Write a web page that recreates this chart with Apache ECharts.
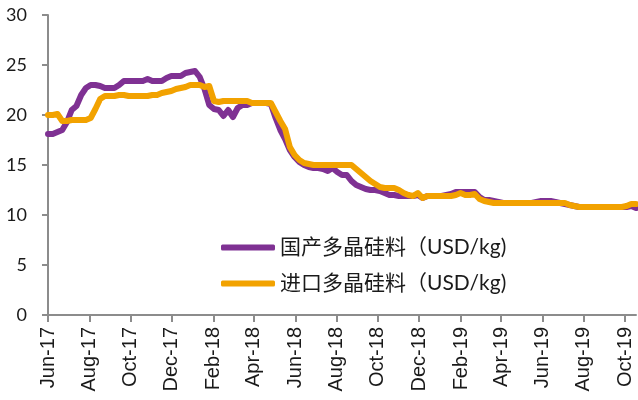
<!DOCTYPE html>
<html>
<head>
<meta charset="utf-8">
<script src="https://cdn.jsdelivr.net/npm/echarts@6/dist/echarts.min.js"></script>
<style>
  html, body { margin: 0; padding: 0; background: #fff; }
  #chart { width: 638px; height: 400px; }
</style>
</head>
<body>
<div id="chart"></div>
<script>
// weekly observations, first one on startDate
const startDate = '2017-06-01'
const endDate = '2019-10-17'

const domesticName = '国产多晶硅料（USD/kg)'
const importName = '进口多晶硅料（USD/kg)'

const domesticPrice = [
  18.1, 18.1, 18.3, 18.5, 19.3, 20.5, 20.9, 22.0, 22.7, 23.0,
  23.0, 22.9, 22.7, 22.7, 22.7, 23.0, 23.4, 23.4, 23.4, 23.4,
  23.4, 23.6, 23.4, 23.4, 23.4, 23.7, 23.9, 23.9, 23.9, 24.2,
  24.3, 24.4, 23.8, 22.6, 21.0, 20.6, 20.5, 19.9, 20.5, 19.8,
  20.7, 21.0, 21.0, 21.2, 21.2, 21.2, 21.2, 21.1, 19.7, 18.5,
  17.6, 16.5, 15.8, 15.3, 15.0, 14.8, 14.7, 14.7, 14.6, 14.4,
  14.7, 14.3, 14.0, 14.0, 13.4, 13.0, 12.8, 12.6, 12.5, 12.5,
  12.4, 12.2, 12.0, 12.0, 11.9, 11.9, 11.9, 11.9, 12.0, 11.7,
  11.9, 11.9, 11.9, 11.9, 12.0, 12.1, 12.3, 12.3, 12.3, 12.3,
  12.3, 11.8, 11.5, 11.5, 11.4, 11.3, 11.2, 11.2, 11.2, 11.2,
  11.2, 11.2, 11.2, 11.3, 11.4, 11.4, 11.4, 11.3, 11.2, 11.1,
  11.0, 10.9, 10.8, 10.8, 10.8, 10.8, 10.8, 10.8, 10.8, 10.8,
  10.8, 10.8, 10.8, 10.9, 10.7
]

const importPrice = [
  20.0, 20.0, 20.1, 19.4, 19.4, 19.5, 19.5, 19.5, 19.5, 19.7,
  20.6, 21.6, 21.9, 21.9, 21.9, 22.0, 22.0, 21.9, 21.9, 21.9,
  21.9, 21.9, 22.0, 22.0, 22.2, 22.3, 22.4, 22.6, 22.7, 22.8,
  23.0, 23.0, 23.0, 22.8, 22.9, 21.4, 21.3, 21.4, 21.4, 21.4,
  21.4, 21.4, 21.4, 21.2, 21.2, 21.2, 21.2, 21.2, 20.3, 19.4,
  18.6, 16.8, 16.0, 15.5, 15.2, 15.1, 15.0, 15.0, 15.0, 15.0,
  15.0, 15.0, 15.0, 15.0, 15.0, 14.6, 14.2, 13.8, 13.4, 13.1,
  12.8, 12.7, 12.7, 12.7, 12.5, 12.2, 12.0, 11.9, 12.2, 11.7,
  11.9, 11.9, 11.9, 11.9, 11.9, 11.9, 12.0, 12.2, 12.0, 12.0,
  12.1, 11.6, 11.4, 11.3, 11.2, 11.2, 11.2, 11.2, 11.2, 11.2,
  11.2, 11.2, 11.2, 11.2, 11.2, 11.2, 11.2, 11.2, 11.2, 11.2,
  11.0, 10.9, 10.8, 10.8, 10.8, 10.8, 10.8, 10.8, 10.8, 10.8,
  10.8, 10.8, 10.9, 11.1, 11.1
]

// x axis labels, every two months
const tickMonths = [
  '2017-06-01', '2017-08-01', '2017-10-01', '2017-12-01', '2018-02-01',
  '2018-04-01', '2018-06-01', '2018-08-01', '2018-10-01', '2018-12-01',
  '2019-02-01', '2019-04-01', '2019-06-01', '2019-08-01', '2019-10-01'
]

const monthNames = ['Jan', 'Feb', 'Mar', 'Apr', 'May', 'Jun', 'Jul', 'Aug', 'Sep', 'Oct', 'Nov', 'Dec']

const DAY = 24 * 3600 * 1000
const parseDate = (s) => {
  const [y, m, d] = s.split('-').map(Number)
  return Date.UTC(y, m - 1, d)
}
const weekDates = domesticPrice.map((_, i) => parseDate(startDate) + i * 7 * DAY)
const tickValues = tickMonths.map(parseDate)

const fmtMonth = (v) => {
  const d = new Date(v)
  return monthNames[d.getUTCMonth()] + '-' + String(d.getUTCFullYear()).slice(2)
}

const axisGrey = '#8c8c8c'

const chart = echarts.init(document.getElementById('chart'))

// x is a plain value axis holding timestamps, so the two-monthly ticks can be set by hand
chart.setOption({
  animation: false,
  grid: { left: 48, right: 2, top: 15, bottom: 85 },
  legend: {
    orient: 'vertical',
    left: 216,
    top: 232,
    itemWidth: 54,
    itemHeight: 6,
    itemGap: 15,
    icon: 'roundRect',
    textStyle: {
      fontFamily: 'Lato, "Noto Sans CJK SC", sans-serif',
      fontSize: 21,
      color: '#1a1a1a',
    },
    data: [domesticName, importName],
  },
  xAxis: {
    type: 'value',
    min: parseDate(startDate),
    max: parseDate(endDate),
    splitLine: { show: false },
    axisLine: { lineStyle: { color: axisGrey, width: 2 } },
    axisTick: {
      show: true,
      length: 7,
      customValues: tickValues,
      lineStyle: { color: axisGrey, width: 2 },
    },
    axisLabel: {
      customValues: tickValues,
      rotate: 90,
      margin: 12,
      fontFamily: 'Arimo, "Liberation Sans", Arial, sans-serif',
      fontSize: 20,
      color: '#1a1a1a',
      formatter: fmtMonth,
    },
  },
  yAxis: {
    type: 'value',
    min: 0,
    max: 30,
    interval: 5,
    splitLine: { show: false },
    axisLine: { show: true, lineStyle: { color: axisGrey, width: 2 } },
    axisTick: { show: true, length: 6, lineStyle: { color: axisGrey, width: 2 } },
    axisLabel: {
      margin: 21,
      fontFamily: 'Lato, sans-serif',
      fontSize: 18,
      color: '#1a1a1a',
    },
  },
  series: [
    {
      name: domesticName,
      type: 'line',
      showSymbol: false,
      symbol: 'none',
      color: '#7f3193',
      lineStyle: { width: 6, cap: 'round', join: 'round' },
      data: weekDates.map((t, i) => [t, domesticPrice[i]]),
    },
    {
      name: importName,
      type: 'line',
      showSymbol: false,
      symbol: 'none',
      color: '#f2a200',
      lineStyle: { width: 6, cap: 'round', join: 'round' },
      data: weekDates.map((t, i) => [t, importPrice[i]]),
    },
  ],
})
</script>
</body>
</html>
